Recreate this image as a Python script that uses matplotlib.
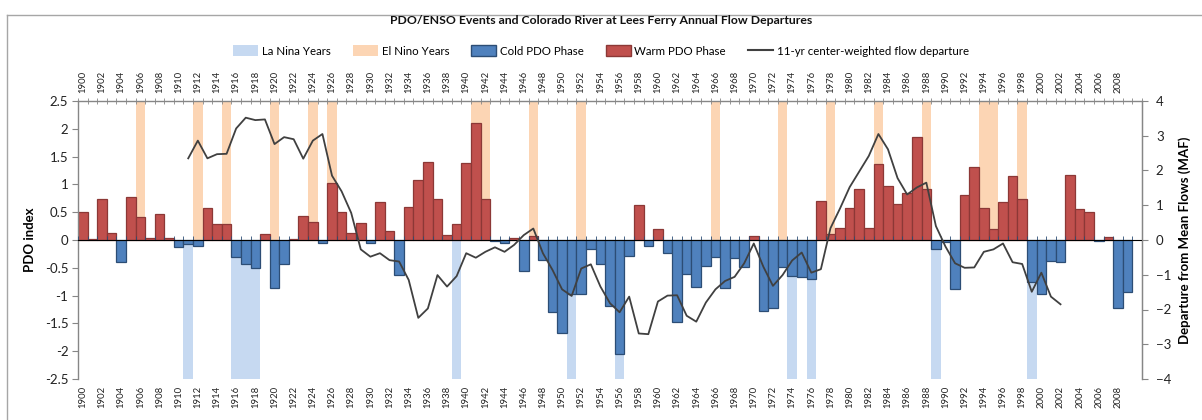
import numpy as np
import matplotlib
matplotlib.use("Agg")
import matplotlib.pyplot as plt
from matplotlib.patches import Patch
from matplotlib.lines import Line2D

plt.rcParams['font.family'] = ['Lato', 'DejaVu Sans']

years = list(range(1900, 2010))
pdo = [0.50, 0.01, 0.74, 0.12, -0.39, 0.77, 0.42, 0.04, 0.46, 0.03,
       -0.12, -0.07, -0.10, 0.58, 0.29, 0.29, -0.31, -0.44, -0.51, 0.10,
       -0.86, -0.44, 0.01, 0.43, 0.32, -0.05, 1.02, 0.50, 0.12, 0.30,
       -0.05, 0.68, 0.17, -0.63, 0.60, 1.08, 1.40, 0.73, 0.09, 0.29,
       1.38, 2.10, 0.73, -0.01, -0.06, 0.04, -0.56, 0.07, -0.36, -1.29,
       -1.68, -0.97, -0.97, -0.16, -0.44, -1.18, -2.05, -0.29, 0.63, -0.11,
       0.20, -0.24, -1.48, -0.62, -0.85, -0.46, -0.31, -0.86, -0.32, -0.49,
       0.08, -1.28, -1.23, -0.49, -0.65, -0.67, -0.70, 0.70, 0.11, 0.21,
       0.57, 0.92, 0.22, 1.37, 0.97, 0.64, 0.85, 1.86, 0.92, -0.16,
       -0.03, -0.89, 0.81, 1.31, 0.58, 0.19, 0.68, 1.16, 0.73, -0.76,
       -0.97, -0.38, -0.40, 1.17, 0.56, 0.51, -0.01, 0.05, -1.23, -0.93]

la_nina_years = [1911, 1916, 1917, 1918, 1939, 1951, 1956, 1974, 1976, 1989, 1999]
el_nino_years = [1906, 1912, 1915, 1920, 1924, 1926, 1941, 1942, 1947, 1952,
                 1966, 1973, 1978, 1983, 1988, 1994, 1995, 1998]
la_nina_value = -2.5
el_nino_value = 2.5

flow_years = list(range(1911, 2003))
flow = [2.35, 2.86, 2.35, 2.47, 2.48, 3.21, 3.52, 3.45, 3.47, 2.76,
        2.96, 2.90, 2.34, 2.86, 3.05, 1.85, 1.40, 0.78, -0.27, -0.48,
        -0.38, -0.58, -0.62, -1.15, -2.24, -1.97, -1.01, -1.34, -1.04, -0.38,
        -0.51, -0.34, -0.21, -0.34, -0.14, 0.14, 0.33, -0.38, -0.86, -1.42,
        -1.61, -0.82, -0.70, -1.34, -1.82, -2.08, -1.63, -2.69, -2.71, -1.77,
        -1.60, -1.59, -2.18, -2.35, -1.80, -1.42, -1.18, -1.06, -0.67, -0.10,
        -0.77, -1.32, -1.01, -0.59, -0.36, -0.94, -0.84, 0.34, 0.91, 1.52,
        1.97, 2.42, 3.05, 2.61, 1.78, 1.31, 1.51, 1.65, 0.40, -0.19,
        -0.67, -0.80, -0.79, -0.34, -0.27, -0.10, -0.64, -0.69, -1.49, -0.94,
        -1.63, -1.85]

label_years = list(range(1900, 2009, 2))

c_lanina = '#C6D9F1'
c_elnino = '#FCD5B4'
c_cold = '#4F81BD'
c_cold_e = '#2C4D75'
c_warm = '#C0504D'
c_warm_e = '#8C3836'
c_line = '#404040'
c_axis = '#868686'

W, H = 1202, 420
fig = plt.figure(figsize=(W / 100, H / 100), dpi=100)
ax = fig.add_axes([78 / W, 1 - 379 / H, (1142 - 78) / W, (379 - 101) / H])

ax.bar(la_nina_years, [la_nina_value] * len(la_nina_years), width=1.0,
       color=c_lanina, linewidth=0, zorder=1)
ax.bar(el_nino_years, [el_nino_value] * len(el_nino_years), width=1.0,
       color=c_elnino, linewidth=0, zorder=1)

pdo_arr = np.array(pdo)
yr = np.array(years)
cold = pdo_arr < 0
ax.bar(yr[cold], pdo_arr[cold], width=1.0, color=c_cold, edgecolor=c_cold_e,
       linewidth=0.9, zorder=2)
ax.bar(yr[~cold], pdo_arr[~cold], width=1.0, color=c_warm, edgecolor=c_warm_e,
       linewidth=0.9, zorder=2)

ax.set_xlim(1899.5, 2010.5)
ax.set_ylim(-2.5, 2.5)
ax.set_yticks(np.arange(-2.5, 2.51, 0.5))
ax.set_yticklabels(['-2.5', '-2', '-1.5', '-1', '-0.5', '0', '0.5', '1', '1.5', '2', '2.5'])
ax.tick_params(axis='y', direction='out', length=4, color=c_axis, labelsize=9.5,
               labelcolor='#222222', pad=3)
ax.set_ylabel('PDO index', fontsize=9.5, fontweight='bold', labelpad=6)

ax.spines['bottom'].set_visible(False)
for s in ['left', 'right', 'top']:
    ax.spines[s].set_color(c_axis)
    ax.spines[s].set_linewidth(1.0)

# top category axis
ax.xaxis.tick_top()
ax.set_xticks(label_years)
ax.set_xticklabels([str(y) for y in label_years], rotation=90, fontsize=6.8,
                   color='#222222')
ax.set_xticks(np.arange(1899.5, 2011, 1), minor=True)
ax.tick_params(axis='x', which='major', length=0, pad=6)
ax.tick_params(axis='x', which='minor', length=5, direction='inout', color=c_axis)

# bottom labels
sec = ax.secondary_xaxis('bottom')
sec.set_xticks(label_years)
sec.set_xticklabels([str(y) for y in label_years], rotation=90, fontsize=6.8,
                    color='#222222')
sec.tick_params(length=0, pad=5)
sec.spines['bottom'].set_visible(False)

# zero axis line
zero = ax.secondary_xaxis(0.5)
zero.set_xticks([])
zero.set_xticks(np.arange(1899.5, 2011, 1), minor=True)
zero.tick_params(which='minor', length=3, direction='out', color='#2C4D75')
zero.spines['bottom'].set_color('#2C4D75')
zero.spines['bottom'].set_linewidth(1.0)
zero.set_zorder(3)

ax2 = ax.twinx()
ax2.plot(flow_years, flow, color=c_line, linewidth=1.3, zorder=5)
ax2.set_ylim(-4, 4)
ax2.set_yticks(range(-4, 5))
ax2.tick_params(axis='y', direction='out', length=4, color=c_axis, labelsize=9.5,
                labelcolor='#222222', pad=6)
ax2.set_ylabel('Departure from Mean Flows (MAF)', fontsize=9.5, fontweight='bold',
               labelpad=5)
for s in ['left', 'right', 'top', 'bottom']:
    ax2.spines[s].set_visible(False)
ax2.spines['right'].set_visible(True)
ax2.spines['right'].set_color(c_axis)

fig.text(0.5, 1 - 20 / H, 'PDO/ENSO Events and Colorado River at Lees Ferry Annual Flow Departures',
         ha='center', va='center', fontsize=8.8, fontweight='bold', color='#111111')

handles = [Patch(facecolor=c_lanina, edgecolor='none'),
           Patch(facecolor=c_elnino, edgecolor='none'),
           Patch(facecolor=c_cold, edgecolor=c_cold_e),
           Patch(facecolor=c_warm, edgecolor=c_warm_e),
           Line2D([], [], color=c_line, linewidth=1.5)]
labels = ['La Nina Years', 'El Nino Years', 'Cold PDO Phase', 'Warm PDO Phase',
          '11-yr center-weighted flow departure']
fig.legend(handles, labels, loc='center', bbox_to_anchor=(0.5, 1 - 51 / H), ncol=5,
           frameon=False, fontsize=8.3, handlelength=2.2, handleheight=1.0,
           columnspacing=1.9, handletextpad=0.3)

# chart frame
fig.add_artist(Line2D([7 / W, 1], [1 - 15 / H, 1 - 15 / H], color='#A6A6A6', linewidth=1.0))
fig.add_artist(Line2D([7 / W, 7 / W], [0, 1 - 15 / H], color='#A6A6A6', linewidth=1.0))

fig.savefig('out.png', dpi=100)
